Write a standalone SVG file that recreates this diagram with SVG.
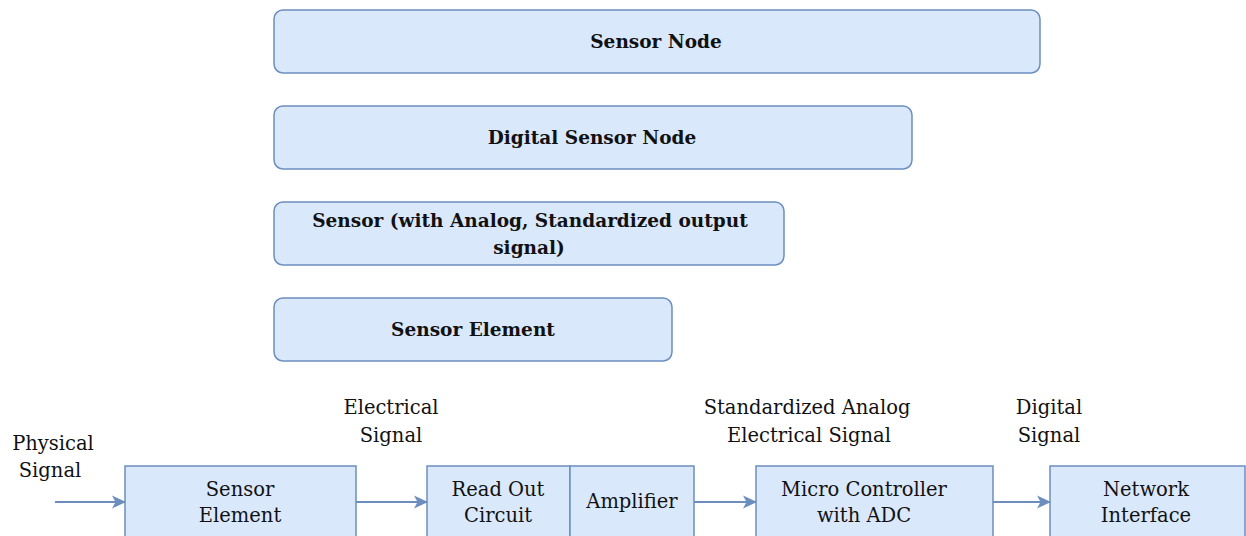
<svg xmlns="http://www.w3.org/2000/svg" width="1246" height="536" viewBox="0 0 1246 536">
<style>
.box{fill:#dae8fc;stroke:#6c8ebf;stroke-width:1.5}
.t{font-family:'DejaVu Serif','Liberation Serif',serif;font-size:19.5px;fill:#111;text-anchor:middle}
.b{font-weight:bold;font-size:18.5px}
.edge{stroke:#6c8ebf;stroke-width:2;fill:none;marker-end:url(#ah)}
</style>
<defs>
<marker id="ah" viewBox="0 0 14 14" refX="13" refY="7" markerWidth="14" markerHeight="14" markerUnits="userSpaceOnUse" orient="auto">
<path d="M0,0.5 L14,7 L0,13.5 L3.5,7 Z" fill="#6c8ebf"/>
</marker>
</defs>
<rect width="1246" height="536" fill="#fff"/>
<g id="sensor-node"><rect class="box" x="274" y="10" width="766" height="63" rx="9"/><text class="t b" x="656" y="48">Sensor Node</text></g>
<g id="digital-sensor-node"><rect class="box" x="274" y="106" width="638" height="63" rx="9"/><text class="t b" x="592" y="144">Digital Sensor Node</text></g>
<g id="sensor-analog"><rect class="box" x="274" y="202" width="510" height="63" rx="9"/><text class="t b" x="530" y="227">Sensor (with Analog, Standardized output</text><text class="t b" x="529" y="254">signal)</text></g>
<g id="sensor-element-top"><rect class="box" x="274" y="298" width="398" height="63" rx="9"/><text class="t b" x="473" y="336">Sensor Element</text></g>

<g id="lbl-physical"><text class="t" x="53" y="450">Physical</text><text class="t" x="50" y="477">Signal</text></g>
<g id="lbl-electrical"><text class="t" x="391" y="414">Electrical</text><text class="t" x="391" y="442">Signal</text></g>
<g id="lbl-standardized"><text class="t" x="807" y="414">Standardized Analog</text><text class="t" x="809" y="442">Electrical Signal</text></g>
<g id="lbl-digital"><text class="t" x="1049" y="414">Digital</text><text class="t" x="1049" y="442">Signal</text></g>

<g id="sensor-element"><rect class="box" x="125" y="466" width="231" height="80"/><text class="t" x="240" y="496">Sensor</text><text class="t" x="240" y="522">Element</text></g>
<g id="readout"><rect class="box" x="427" y="466" width="143" height="80"/><text class="t" x="498" y="496">Read Out</text><text class="t" x="498" y="522">Circuit</text></g>
<g id="amplifier"><rect class="box" x="570" y="466" width="124" height="80"/><text class="t" x="632" y="508">Amplifier</text></g>
<g id="micro"><rect class="box" x="756" y="466" width="237" height="80"/><text class="t" x="864" y="496">Micro Controller</text><text class="t" x="864" y="522">with ADC</text></g>
<g id="network"><rect class="box" x="1050" y="466" width="195" height="80"/><text class="t" x="1146" y="496">Network</text><text class="t" x="1146" y="522">Interface</text></g>

<g id="connectors">
<line class="edge" x1="55" y1="502" x2="125" y2="502"/>
<line class="edge" x1="356" y1="502" x2="427" y2="502"/>
<line class="edge" x1="694" y1="502" x2="756" y2="502"/>
<line class="edge" x1="993" y1="502" x2="1050" y2="502"/>
</g>
</svg>
